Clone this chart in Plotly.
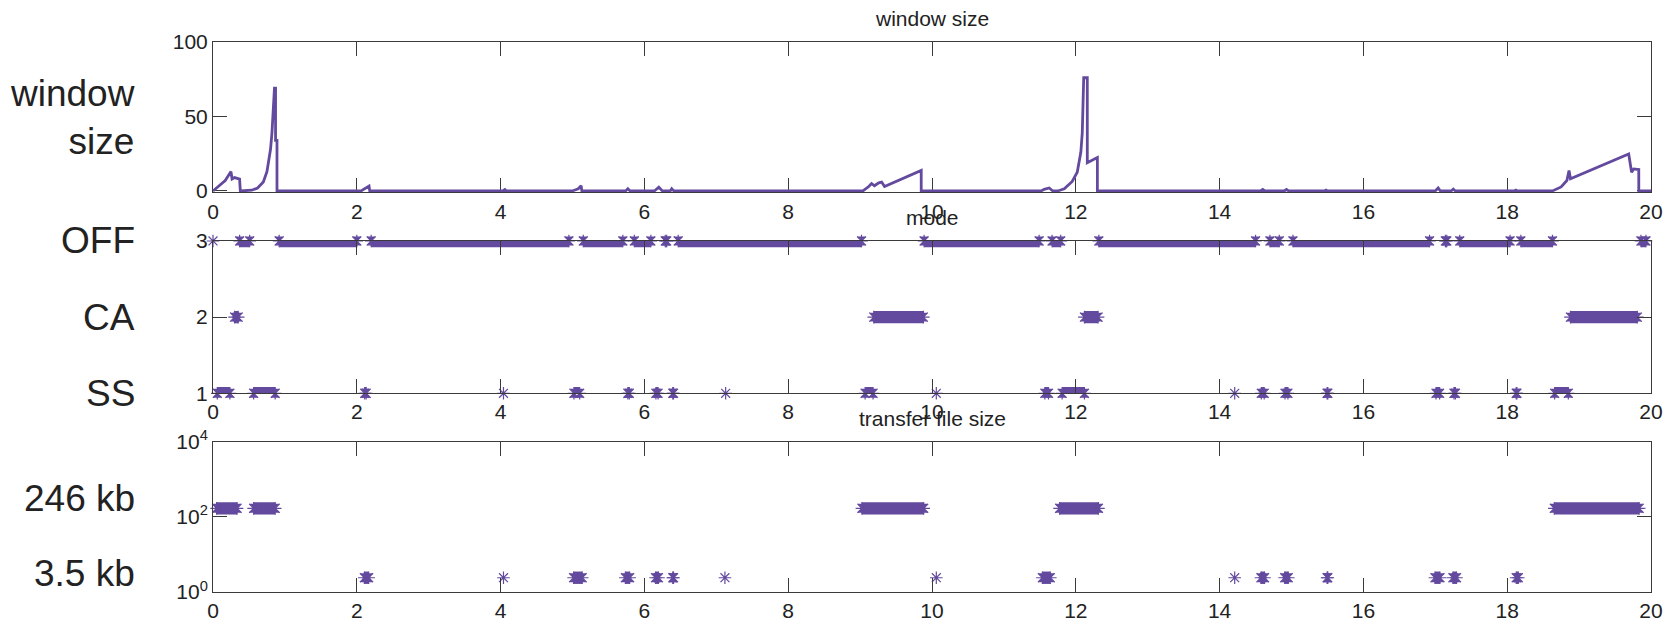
import plotly.graph_objects as go

PURPLE = "#634a9e"
AXIS = "#3a3a3a"
TEXT = "#222222"
FONT = "Liberation Sans, Arial, Helvetica, sans-serif"

# ---- congestion window over time (s, packets) ----
win_t = [0, 0.06, 0.17, 0.25, 0.265, 0.30, 0.345, 0.37, 0.38,
         0.54, 0.62, 0.70, 0.75, 0.80, 0.82, 0.84, 0.855, 0.87, 0.87, 0.89, 0.89,
         2.06, 2.12, 2.17, 2.18,
         4.03, 4.06, 4.08,
         5.00, 5.08, 5.12, 5.13,
         5.74, 5.77, 5.80,
         6.14, 6.20, 6.25,
         6.36, 6.38, 6.41,
         9.04, 9.12, 9.16, 9.20, 9.26, 9.30, 9.34, 9.85, 9.85,
         11.52, 11.56, 11.63, 11.68,
         11.75, 11.84, 11.95, 12.02, 12.07, 12.09, 12.11, 12.16, 12.16, 12.28, 12.30, 12.30,
         14.57, 14.60, 14.63,
         14.90, 14.93, 14.96,
         15.46, 15.48, 15.50,
         17.00, 17.04, 17.07,
         17.22, 17.25, 17.28,
         18.10, 18.12, 18.14,
         18.63, 18.75, 18.83, 18.86, 18.88, 19.69, 19.73, 19.76, 19.83, 19.83,
         20.0]
win_w = [0, 2.4, 7, 13, 8, 9, 8.5, 8, 0,
         0.5, 2, 6, 13, 28, 39, 55, 69, 69, 34, 34, 0,
         0, 1.5, 3.3, 0,
         0, 1, 0,
         0, 1.5, 3.5, 0,
         0, 1.5, 0,
         0, 2.5, 0,
         0, 1.5, 0,
         0, 3, 5, 3.5, 5.5, 6, 3, 13.8, 0,
         0, 1.1, 2, 0,
         0, 1.5, 6.4, 12.6, 26, 39, 76, 76, 19, 22.5, 22.5, 0,
         0, 1, 0,
         0, 1, 0,
         0, 0.6, 0,
         0, 2, 0,
         0, 1.2, 0,
         0, 0.6, 0,
         0, 2.7, 7, 13.7, 8.2, 24.8, 12.6, 14.8, 14.4, 0,
         0]

# ---- sender mode: runs of consecutive samples (first, last) ----
MODE_SS, MODE_CA, MODE_OFF = 1, 2, 3
off_runs = [(0.37, 0.51), (0.92, 2.00), (2.20, 4.95), (5.15, 5.70), (5.86, 6.09),
            (6.29, 6.31), (6.47, 9.02), (9.89, 11.49), (11.67, 11.79), (12.32, 14.50),
            (14.70, 14.83), (15.02, 16.92), (17.14, 17.16), (17.34, 18.04),
            (18.19, 18.63), (19.86, 19.93)]
off_single = [0.0]
ca_runs = [(0.30, 0.35), (9.19, 9.88), (12.12, 12.31), (18.88, 19.81)]
ss_runs = [(0.06, 0.235), (0.565, 0.865), (2.11, 2.13), (5.02, 5.10), (5.77, 5.79),
           (6.16, 6.19), (6.395, 6.405), (9.07, 9.18), (11.57, 11.62), (11.81, 12.12),
           (14.58, 14.62), (14.91, 14.95), (15.495, 15.505), (17.01, 17.06),
           (17.26, 17.28), (18.125, 18.135), (18.66, 18.85)]
ss_single = [4.04, 7.13, 10.06, 14.21]

# ---- size of the file being transferred (plotted in packets) ----
PACKET_KB = 1.46
big_kb = 246
small_kb = 3.5
big_runs = [(0.05, 0.335), (0.565, 0.865), (9.025, 9.885), (11.775, 12.315), (18.655, 19.835)]
small_runs = [(2.105, 2.165), (5.015, 5.135), (5.735, 5.795), (6.155, 6.195), (6.395, 6.405),
              (11.535, 11.645), (14.575, 14.625), (14.905, 14.955), (15.495, 15.505),
              (16.995, 17.065), (17.245, 17.295), (18.125, 18.155)]
small_single = [4.04, 7.12, 10.06, 14.21]

x_ticks = list(range(0, 21, 2))

STAR_SIZE = 10.5
BAND = 12.4

fig = go.Figure()

fig.add_trace(go.Scatter(x=win_t, y=win_w, mode="lines",
                         line=dict(color=PURPLE, width=2.8),
                         xaxis="x", yaxis="y", hoverinfo="skip"))


def add_stars(xs, level, xa, ya):
    fig.add_trace(go.Scatter(
        x=xs, y=[level] * len(xs), mode="markers", xaxis=xa, yaxis=ya,
        marker=dict(symbol="asterisk-open", size=STAR_SIZE, color=PURPLE,
                    line=dict(width=1.2, color=PURPLE)),
        cliponaxis=False, hoverinfo="skip"))


def add_runs(runs, level, xa, ya):
    mids = [(a + b) / 2 for a, b in runs]
    halfs = [(b - a) / 2 for a, b in runs]
    # dense samples merge into a solid band between the first and last sample
    fig.add_trace(go.Scatter(
        x=mids, y=[level] * len(runs), mode="markers", xaxis=xa, yaxis=ya,
        marker=dict(size=1, color="rgba(0,0,0,0)"),
        error_x=dict(type="data", array=halfs, symmetric=True,
                     thickness=BAND, width=0, color=PURPLE),
        cliponaxis=False, hoverinfo="skip"))
    ends = [a for a, b in runs] + [b for a, b in runs]
    fig.add_trace(go.Scatter(
        x=ends, y=[level] * len(ends), mode="markers", xaxis=xa, yaxis=ya,
        marker=dict(symbol="hourglass", size=STAR_SIZE * 0.85, color=PURPLE,
                    line=dict(width=0)),
        cliponaxis=False, hoverinfo="skip"))
    add_stars(ends, level, xa, ya)


add_runs(off_runs, MODE_OFF, "x2", "y2")
add_stars(off_single, MODE_OFF, "x2", "y2")
add_runs(ca_runs, MODE_CA, "x2", "y2")
add_runs(ss_runs, MODE_SS, "x2", "y2")
add_stars(ss_single, MODE_SS, "x2", "y2")

big_pk = big_kb / PACKET_KB
small_pk = small_kb / PACKET_KB
add_runs(big_runs, big_pk, "x3", "y3")
add_runs(small_runs, small_pk, "x3", "y3")
add_stars(small_single, small_pk, "x3", "y3")

tick_font = dict(family=FONT, size=21, color=TEXT)
common = dict(showline=True, linecolor=AXIS, linewidth=1, mirror="ticks",
              ticks="inside", ticklen=14, tickwidth=1, tickcolor=AXIS,
              showgrid=False, zeroline=False, tickfont=tick_font, fixedrange=True,
              automargin=False)

xcommon = dict(common, range=[0, 20], tickvals=x_ticks, domain=[0, 1],
               ticklabelstandoff=0)

fig.update_layout(
    width=1670, height=619,
    margin=dict(l=213, r=19, t=42, b=27, autoexpand=False),
    paper_bgcolor="white", plot_bgcolor="white",
    showlegend=False,
    xaxis=dict(xcommon, anchor="y", layer="below traces"),
    yaxis=dict(common, anchor="x", domain=[0.7267, 1.0], range=[-0.9, 100],
               tickvals=[0, 50, 100], layer="below traces"),
    xaxis2=dict(xcommon, anchor="y2"),
    yaxis2=dict(common, anchor="x2", domain=[0.3613, 0.6382], range=[1, 3],
                tickvals=[1, 2, 3]),
    xaxis3=dict(xcommon, anchor="y3"),
    yaxis3=dict(common, anchor="x3", domain=[0.0, 0.2733], type="log", range=[0, 4],
                tickvals=[1, 100, 10000],
                ticktext=["10<sup>0</sup>", "10<sup>2</sup>", "10<sup>4</sup>"]),
)

title_font = dict(family=FONT, size=21, color=TEXT)
for txt, ref in [("window size", "y domain"), ("mode", "y2 domain"),
                 ("transfer file size", "y3 domain")]:
    fig.add_annotation(text=txt, x=0.5, xref="paper", y=1, yref=ref,
                       xanchor="center", yanchor="bottom", yshift=10,
                       showarrow=False, font=title_font)

label_font = dict(family=FONT, size=37, color=TEXT)
LX = -0.0529
fig.add_annotation(text="window<br>size", x=LX, xref="paper", y=0.5, yref="y domain",
                   xanchor="right", yanchor="middle", align="right",
                   showarrow=False, font=label_font)
for txt, yv in [("OFF", MODE_OFF), ("CA", MODE_CA), ("SS", MODE_SS)]:
    fig.add_annotation(text=txt, x=LX, xref="paper", y=yv, yref="y2",
                       xanchor="right", yanchor="middle", showarrow=False, font=label_font)
for txt, yv in [(f"{big_kb} kb", 2.5), (f"{small_kb} kb", 0.5)]:
    fig.add_annotation(text=txt, x=LX, xref="paper", y=yv, yref="y3",
                       xanchor="right", yanchor="middle", showarrow=False, font=label_font)

fig.write_html("out.html")
